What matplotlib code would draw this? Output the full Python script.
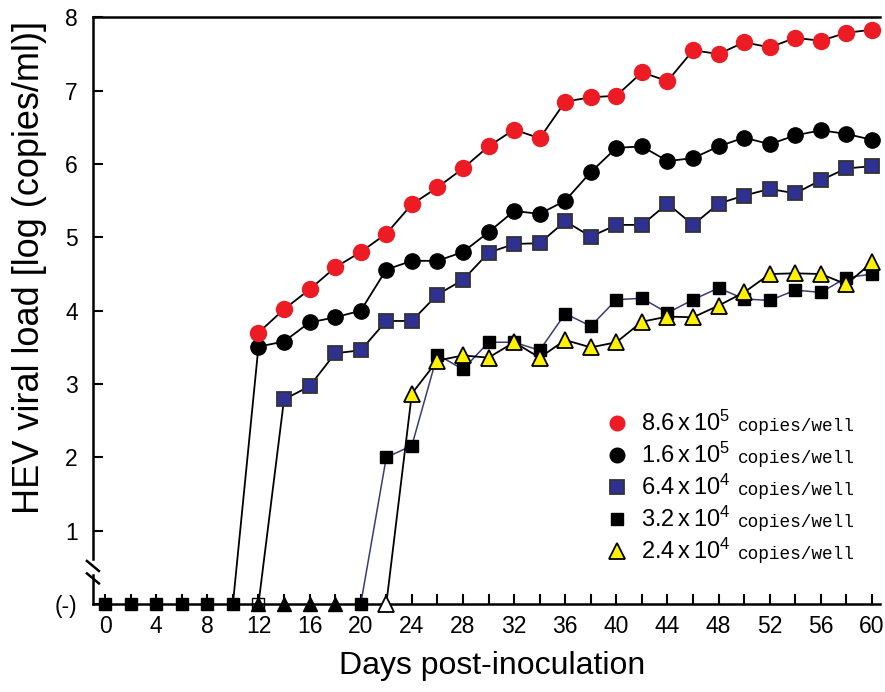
import numpy as np
import matplotlib
matplotlib.use("Agg")
import matplotlib.pyplot as plt
from matplotlib.lines import Line2D

plt.rcParams['font.family'] = ['Liberation Sans', 'DejaVu Sans']
plt.rcParams['mathtext.fontset'] = 'custom'
plt.rcParams['mathtext.rm'] = 'Liberation Sans'
plt.rcParams['mathtext.default'] = 'rm'

# ---------------- data ----------------
leg_numbers = [r"$8.6\,\mathrm{x}\,10^{5}$", r"$1.6\,\mathrm{x}\,10^{5}$",
               r"$6.4\,\mathrm{x}\,10^{4}$", r"$3.2\,\mathrm{x}\,10^{4}$",
               r"$2.4\,\mathrm{x}\,10^{4}$"]
leg_unit = "copies/well"

red_days = list(range(12, 62, 2))
red_vals = [3.70, 4.02, 4.29, 4.59, 4.80, 5.05, 5.45, 5.68, 5.94, 6.24, 6.47, 6.35,
            6.85, 6.91, 6.93, 7.25, 7.13, 7.55, 7.50, 7.66, 7.59, 7.72, 7.68, 7.79, 7.83]

blk_days = list(range(10, 62, 2))
blk_vals = [0.0, 3.51, 3.58, 3.84, 3.91, 4.00, 4.56, 4.68, 4.68, 4.80, 5.07, 5.36, 5.32,
            5.50, 5.89, 6.22, 6.24, 6.04, 6.08, 6.24, 6.36, 6.27, 6.39, 6.46, 6.41, 6.33]

blu_days = list(range(12, 62, 2))
blu_vals = [0.0, 2.79, 2.97, 3.42, 3.46, 3.86, 3.86, 4.22, 4.42, 4.79, 4.91, 4.92,
            5.22, 5.01, 5.17, 5.17, 5.46, 5.17, 5.46, 5.57, 5.66, 5.60, 5.78, 5.94, 5.97]

sq_days = list(range(20, 62, 2))
sq_vals = [0.0, 2.00, 2.16, 3.40, 3.20, 3.57, 3.57, 3.46, 3.96, 3.79, 4.15, 4.17,
           3.97, 4.15, 4.31, 4.16, 4.14, 4.28, 4.25, 4.45, 4.50]

tri_days = list(range(22, 62, 2))
tri_vals = [0.0, 2.87, 3.32, 3.39, 3.36, 3.57, 3.36, 3.60, 3.50, 3.57, 3.85, 3.92,
            3.91, 4.07, 4.25, 4.50, 4.51, 4.50, 4.36, 4.66]

# negative (-) markers on the baseline
neg_sq_days = [0, 2, 4, 6, 8, 10, 20]
neg_tri_days = [12, 14, 16, 18]
open_sq_days = [12]
open_tri_days = [22]

xticks = list(range(0, 61, 4))
xminor = list(range(2, 61, 4))
yticks = [0, 1, 2, 3, 4, 5, 6, 7, 8]
yticklabels = ["(-)", "1", "2", "3", "4", "5", "6", "7", "8"]

# ---------------- figure ----------------
W, H = 885, 692
fig = plt.figure(figsize=(W / 100, H / 100), dpi=100)
ax = fig.add_axes([0.105, 0.127, 0.889, 0.848])
ax.set_xlim(-0.95, 60.6)
ax.set_ylim(0, 8)

RED = '#ed1c24'
NAVY = '#2e3192'
YEL = '#fff200'

styles = [
    dict(marker='o', ms=11.5, mfc=RED, mec=RED, mew=1.0),
    dict(marker='o', ms=11, mfc='black', mec='black', mew=1.0),
    dict(marker='s', ms=10, mfc=NAVY, mec='#333333', mew=1.3),
    dict(marker='s', ms=9, mfc='black', mec='black', mew=1.0),
    dict(marker='^', ms=11.5, mfc=YEL, mec='black', mew=1.3),
]

def plot_series(days, vals, lc, lw, st):
    d = np.array(days, float)
    v = np.array(vals, float)
    ax.plot(d, v, '-', color=lc, lw=lw, zorder=3, clip_on=False)
    pos = v > 0
    ax.plot(d[pos], v[pos], linestyle='none', zorder=4, clip_on=False, **st)

plot_series(blk_days, blk_vals, 'black', 1.3, styles[1])
plot_series(red_days, red_vals, 'black', 1.3, styles[0])
plot_series(blu_days, blu_vals, 'black', 1.3, styles[2])
plot_series(sq_days, sq_vals, '#3b3b74', 1.1, styles[3])
plot_series(tri_days, tri_vals, 'black', 1.3, styles[4])

# baseline negative markers
ax.plot(neg_tri_days, [0]*len(neg_tri_days), linestyle='none', marker='^', ms=10,
        mfc='black', mec='black', zorder=5, clip_on=False)
ax.plot(neg_sq_days, [0]*len(neg_sq_days), linestyle='none', marker='s', ms=9,
        mfc='black', mec='black', zorder=5, clip_on=False)
ax.plot(open_sq_days, [0]*len(open_sq_days), linestyle='none', marker='s', ms=9,
        mfc='none', mec='black', mew=1.0, zorder=6, clip_on=False)
ax.plot(open_tri_days, [0]*len(open_tri_days), linestyle='none', marker='^', ms=11,
        mfc='white', mec='black', mew=1.3, zorder=6, clip_on=False)

# spines
ax.spines['right'].set_visible(False)
ax.spines['left'].set_visible(False)
ax.spines['top'].set_linewidth(1.8)
ax.spines['bottom'].set_linewidth(1.8)

# left spine with break
tr = ax.get_yaxis_transform()
ax.plot([0, 0], [0.62, 8], color='black', lw=1.8, transform=tr, clip_on=False, zorder=7)
ax.plot([0, 0], [0, 0.40], color='black', lw=1.8, transform=tr, clip_on=False, zorder=7)
inv = fig.transFigure.inverted()
for yc in [0.52, 0.35]:
    x0, y0 = ax.transData.transform((ax.get_xlim()[0], yc))
    p1 = inv.transform((x0 - 6, y0 + 5))
    p2 = inv.transform((x0 + 6, y0 - 5))
    fig.add_artist(Line2D([p1[0], p2[0]], [p1[1], p2[1]], color='black', lw=1.8))

ax.set_xticks(xticks)
ax.set_xticks(xminor, minor=True)
ax.set_yticks(yticks)
ax.set_yticklabels(yticklabels)
ax.tick_params(axis='both', which='both', direction='in', width=1.5, labelsize=16.5)
ax.tick_params(axis='x', which='both', length=7, pad=8)
ax.tick_params(axis='y', which='both', length=7, pad=11)
ax.tick_params(axis='x', which='both', top=False)

ax.set_xlabel("Days post-inoculation", fontsize=23)
ax.xaxis.set_label_coords(0.507, -0.080)
ax.set_ylabel("HEV viral load [log (copies/ml)]", fontsize=26)
ax.yaxis.set_label_coords(-0.058, 0.574)

# legend (manual, pixel layout)
def fx(px):
    return px / W

def fy(py):
    return 1 - py / H

leg_rows_y = [423, 455, 487, 519, 551]
leg_marker_sizes = [10.5, 10.5, 9.5, 8.5, 11]
for i, yrow in enumerate(leg_rows_y):
    st = dict(styles[i])
    st['ms'] = leg_marker_sizes[i]
    fig.add_artist(Line2D([fx(617)], [fy(yrow)], linestyle='none', **st))
    fig.text(fx(641), fy(yrow + 8), leg_numbers[i], fontsize=17, va='baseline', ha='left')
    fig.text(fx(738), fy(yrow + 8), leg_unit, fontsize=12.8, va='baseline', ha='left',
             family=['Liberation Mono', 'DejaVu Sans Mono'])

fig.savefig("out.png", dpi=100)
